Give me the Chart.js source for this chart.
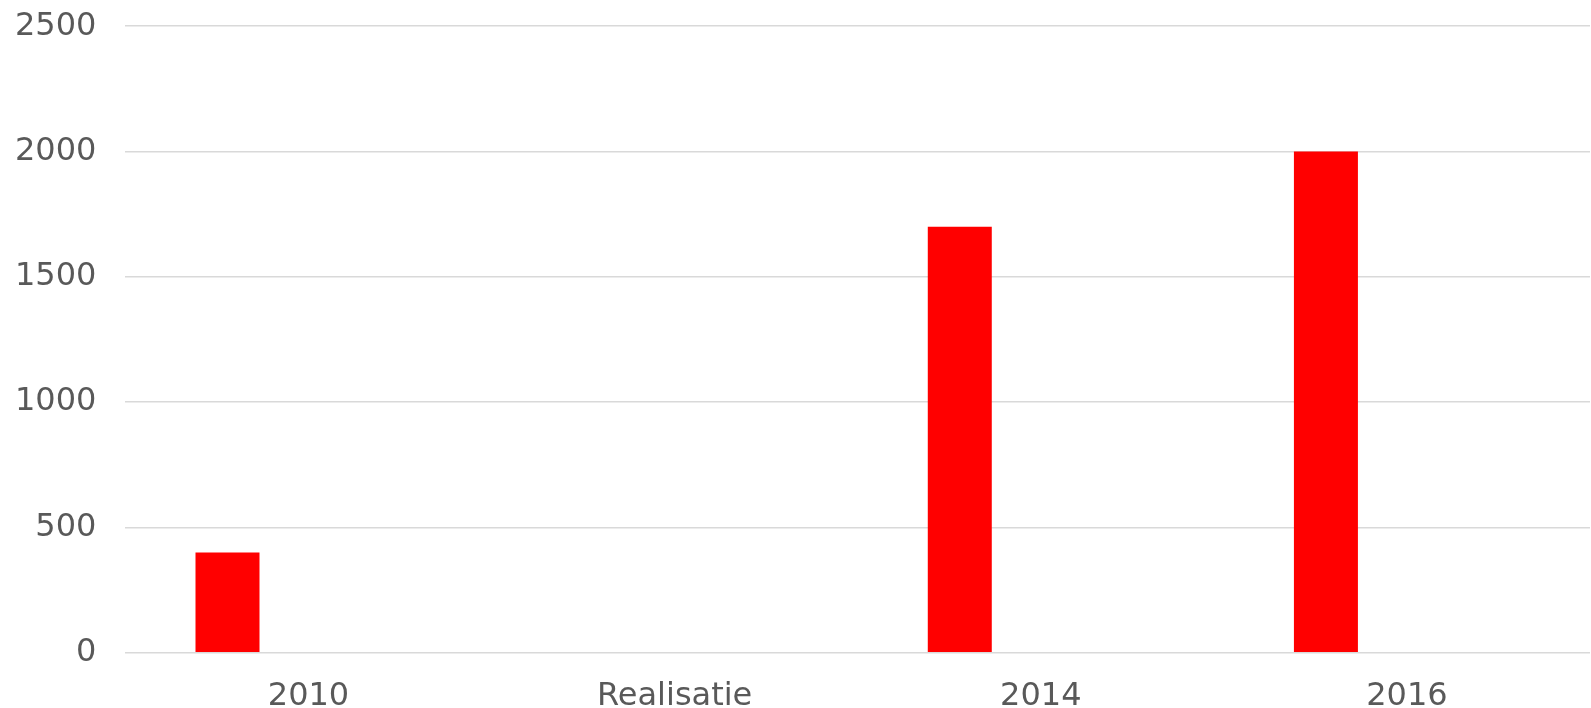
<!DOCTYPE html>
<html>
<head>
<meta charset="utf-8">
<script src="https://cdn.jsdelivr.net/npm/chart.js@4/dist/chart.umd.min.js"></script>
<style>
  html, body { margin: 0; padding: 0; background: #ffffff; overflow: hidden; }
  #wrap { position: absolute; left: -29px; top: -22px; width: 1621px; height: 762px; }
</style>
</head>
<body>
<div id="wrap"><canvas id="c"></canvas></div>
<script>
const categories = ["2010", "Realisatie", "2014", "2016"];
const seriesValues = [400, null, 1700, 2000];
const emptySeries = [null, null, null, null];
const yTicks = [0, 500, 1000, 1500, 2000, 2500];

Chart.defaults.font.family = "'DejaVu Sans', Verdana, sans-serif";
Chart.defaults.color = "#595959";

new Chart(document.getElementById("c"), {
  type: "bar",
  data: {
    labels: categories,
    datasets: [
      {
        label: "Waarde",
        data: seriesValues,
        backgroundColor: "#ff0000",
        borderWidth: 0,
        categoryPercentage: 0.885,
        barPercentage: 0.395
      },
      {
        label: "",
        data: emptySeries,
        backgroundColor: "rgba(0,0,0,0)",
        borderWidth: 0,
        categoryPercentage: 0.885,
        barPercentage: 0.395
      }
    ]
  },
  options: {
    responsive: true,
    maintainAspectRatio: false,
    animation: false,
    layout: { padding: { top: -21, right: 2, left: 15, bottom: 0 } },
    plugins: {
      legend: { display: false },
      tooltip: { enabled: false }
    },
    scales: {
      x: {
        grid: { display: false, drawTicks: false },
        border: { display: false },
        ticks: {
          font: { size: 32, lineHeight: 1.1 },
          color: "#595959",
          padding: 26,
          maxRotation: 0
        }
      },
      y: {
        min: 0,
        max: 2500,
        afterBuildTicks: (scale) => { scale.ticks = yTicks.map(v => ({ value: v })); },
        grid: { color: "#d9d9d9", lineWidth: 1.5, drawTicks: false },
        border: { display: false },
        ticks: {
          font: { size: 32 },
          color: "#595959",
          padding: 29,
          callback: (v) => String(v)
        }
      }
    }
  }
});
</script>
</body>
</html>
